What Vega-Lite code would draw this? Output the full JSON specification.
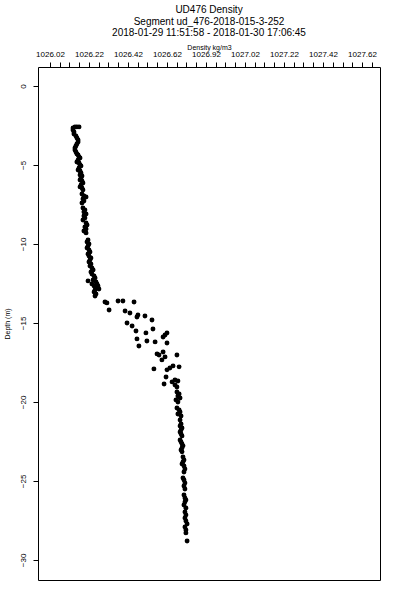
{
  "$schema": "https://vega.github.io/schema/vega-lite/v6.json",
  "autosize": "none",
  "width": 342,
  "height": 513,
  "padding": {"left": 38, "top": 67, "right": 20, "bottom": 20},
  "background": "white",
  "config": {
    "view": {"stroke": "black", "strokeWidth": 1},
    "font": "Liberation Sans"
  },
  "title": {
    "text": ["UD476 Density", "Segment ud_476-2018-015-3-252", "2018-01-29 11:51:58 - 2018-01-30 17:06:45"],
    "fontSize": 10,
    "fontWeight": "normal",
    "font": "Liberation Sans",
    "color": "black",
    "anchor": "middle",
    "lineHeight": 11.5,
    "offset": 5
  },
  "data": {
    "values": [
      {"density": 1026.169, "depth": -2.59},
      {"density": 1026.158, "depth": -2.59},
      {"density": 1026.148, "depth": -2.59},
      {"density": 1026.138, "depth": -2.66},
      {"density": 1026.138, "depth": -2.78},
      {"density": 1026.143, "depth": -2.91},
      {"density": 1026.143, "depth": -3.04},
      {"density": 1026.153, "depth": -3.16},
      {"density": 1026.158, "depth": -3.29},
      {"density": 1026.164, "depth": -3.42},
      {"density": 1026.164, "depth": -3.54},
      {"density": 1026.158, "depth": -3.67},
      {"density": 1026.153, "depth": -3.80},
      {"density": 1026.148, "depth": -3.92},
      {"density": 1026.148, "depth": -4.05},
      {"density": 1026.153, "depth": -4.18},
      {"density": 1026.158, "depth": -4.30},
      {"density": 1026.164, "depth": -4.37},
      {"density": 1026.169, "depth": -4.49},
      {"density": 1026.174, "depth": -4.56},
      {"density": 1026.164, "depth": -4.68},
      {"density": 1026.158, "depth": -4.81},
      {"density": 1026.169, "depth": -4.87},
      {"density": 1026.174, "depth": -5.00},
      {"density": 1026.179, "depth": -5.06},
      {"density": 1026.169, "depth": -5.19},
      {"density": 1026.164, "depth": -5.32},
      {"density": 1026.174, "depth": -5.38},
      {"density": 1026.179, "depth": -5.51},
      {"density": 1026.174, "depth": -5.63},
      {"density": 1026.184, "depth": -5.70},
      {"density": 1026.179, "depth": -5.82},
      {"density": 1026.174, "depth": -5.95},
      {"density": 1026.184, "depth": -6.01},
      {"density": 1026.189, "depth": -6.14},
      {"density": 1026.179, "depth": -6.27},
      {"density": 1026.174, "depth": -6.39},
      {"density": 1026.184, "depth": -6.46},
      {"density": 1026.189, "depth": -6.58},
      {"density": 1026.184, "depth": -6.84},
      {"density": 1026.194, "depth": -6.96},
      {"density": 1026.205, "depth": -7.03},
      {"density": 1026.189, "depth": -7.15},
      {"density": 1026.194, "depth": -7.28},
      {"density": 1026.184, "depth": -7.41},
      {"density": 1026.189, "depth": -7.72},
      {"density": 1026.199, "depth": -7.85},
      {"density": 1026.194, "depth": -7.97},
      {"density": 1026.205, "depth": -8.10},
      {"density": 1026.194, "depth": -8.23},
      {"density": 1026.199, "depth": -8.35},
      {"density": 1026.189, "depth": -8.48},
      {"density": 1026.205, "depth": -8.67},
      {"density": 1026.210, "depth": -8.80},
      {"density": 1026.199, "depth": -8.92},
      {"density": 1026.205, "depth": -9.05},
      {"density": 1026.194, "depth": -9.18},
      {"density": 1026.205, "depth": -9.30},
      {"density": 1026.215, "depth": -9.75},
      {"density": 1026.210, "depth": -9.87},
      {"density": 1026.220, "depth": -10.00},
      {"density": 1026.215, "depth": -10.13},
      {"density": 1026.210, "depth": -10.25},
      {"density": 1026.220, "depth": -10.38},
      {"density": 1026.225, "depth": -10.51},
      {"density": 1026.215, "depth": -10.63},
      {"density": 1026.220, "depth": -10.76},
      {"density": 1026.230, "depth": -10.89},
      {"density": 1026.225, "depth": -11.01},
      {"density": 1026.220, "depth": -11.14},
      {"density": 1026.230, "depth": -11.27},
      {"density": 1026.225, "depth": -11.39},
      {"density": 1026.235, "depth": -11.52},
      {"density": 1026.241, "depth": -11.65},
      {"density": 1026.230, "depth": -11.77},
      {"density": 1026.235, "depth": -11.90},
      {"density": 1026.246, "depth": -12.03},
      {"density": 1026.251, "depth": -12.15},
      {"density": 1026.241, "depth": -12.28},
      {"density": 1026.215, "depth": -12.34},
      {"density": 1026.256, "depth": -12.41},
      {"density": 1026.261, "depth": -12.53},
      {"density": 1026.235, "depth": -12.53},
      {"density": 1026.246, "depth": -12.66},
      {"density": 1026.266, "depth": -12.66},
      {"density": 1026.256, "depth": -12.78},
      {"density": 1026.271, "depth": -12.85},
      {"density": 1026.251, "depth": -12.91},
      {"density": 1026.246, "depth": -13.04},
      {"density": 1026.256, "depth": -13.16},
      {"density": 1026.251, "depth": -13.29},
      {"density": 1026.302, "depth": -13.67},
      {"density": 1026.312, "depth": -13.73},
      {"density": 1026.323, "depth": -14.18},
      {"density": 1026.369, "depth": -13.61},
      {"density": 1026.394, "depth": -13.61},
      {"density": 1026.451, "depth": -13.67},
      {"density": 1026.405, "depth": -14.24},
      {"density": 1026.430, "depth": -14.37},
      {"density": 1026.466, "depth": -14.62},
      {"density": 1026.471, "depth": -14.49},
      {"density": 1026.507, "depth": -14.56},
      {"density": 1026.543, "depth": -14.81},
      {"density": 1026.415, "depth": -15.00},
      {"density": 1026.441, "depth": -15.19},
      {"density": 1026.461, "depth": -15.51},
      {"density": 1026.512, "depth": -15.63},
      {"density": 1026.548, "depth": -15.38},
      {"density": 1026.600, "depth": -15.89},
      {"density": 1026.610, "depth": -15.76},
      {"density": 1026.620, "depth": -15.63},
      {"density": 1026.466, "depth": -16.01},
      {"density": 1026.517, "depth": -16.14},
      {"density": 1026.559, "depth": -16.20},
      {"density": 1026.620, "depth": -16.27},
      {"density": 1026.476, "depth": -16.46},
      {"density": 1026.569, "depth": -16.96},
      {"density": 1026.579, "depth": -17.03},
      {"density": 1026.600, "depth": -16.84},
      {"density": 1026.610, "depth": -17.15},
      {"density": 1026.671, "depth": -17.03},
      {"density": 1026.594, "depth": -17.34},
      {"density": 1026.553, "depth": -17.91},
      {"density": 1026.620, "depth": -17.97},
      {"density": 1026.635, "depth": -17.85},
      {"density": 1026.651, "depth": -17.72},
      {"density": 1026.682, "depth": -17.78},
      {"density": 1026.615, "depth": -18.42},
      {"density": 1026.605, "depth": -18.86},
      {"density": 1026.646, "depth": -18.73},
      {"density": 1026.661, "depth": -18.61},
      {"density": 1026.676, "depth": -18.67},
      {"density": 1026.661, "depth": -18.92},
      {"density": 1026.671, "depth": -19.05},
      {"density": 1026.671, "depth": -19.37},
      {"density": 1026.682, "depth": -19.49},
      {"density": 1026.676, "depth": -19.62},
      {"density": 1026.687, "depth": -19.75},
      {"density": 1026.666, "depth": -19.87},
      {"density": 1026.676, "depth": -20.00},
      {"density": 1026.671, "depth": -20.38},
      {"density": 1026.682, "depth": -20.51},
      {"density": 1026.687, "depth": -20.63},
      {"density": 1026.676, "depth": -20.76},
      {"density": 1026.692, "depth": -20.89},
      {"density": 1026.687, "depth": -21.14},
      {"density": 1026.692, "depth": -21.39},
      {"density": 1026.687, "depth": -21.52},
      {"density": 1026.697, "depth": -21.65},
      {"density": 1026.692, "depth": -21.77},
      {"density": 1026.687, "depth": -21.90},
      {"density": 1026.692, "depth": -22.03},
      {"density": 1026.697, "depth": -22.15},
      {"density": 1026.687, "depth": -22.41},
      {"density": 1026.692, "depth": -22.53},
      {"density": 1026.697, "depth": -22.66},
      {"density": 1026.702, "depth": -22.78},
      {"density": 1026.697, "depth": -22.91},
      {"density": 1026.692, "depth": -23.04},
      {"density": 1026.697, "depth": -23.16},
      {"density": 1026.702, "depth": -23.48},
      {"density": 1026.707, "depth": -23.67},
      {"density": 1026.702, "depth": -23.80},
      {"density": 1026.697, "depth": -23.92},
      {"density": 1026.707, "depth": -24.05},
      {"density": 1026.712, "depth": -24.24},
      {"density": 1026.707, "depth": -24.43},
      {"density": 1026.702, "depth": -24.81},
      {"density": 1026.707, "depth": -24.94},
      {"density": 1026.712, "depth": -25.13},
      {"density": 1026.707, "depth": -25.32},
      {"density": 1026.712, "depth": -25.51},
      {"density": 1026.707, "depth": -25.89},
      {"density": 1026.712, "depth": -26.08},
      {"density": 1026.717, "depth": -26.20},
      {"density": 1026.712, "depth": -26.33},
      {"density": 1026.707, "depth": -26.52},
      {"density": 1026.717, "depth": -26.71},
      {"density": 1026.712, "depth": -26.96},
      {"density": 1026.717, "depth": -27.15},
      {"density": 1026.712, "depth": -27.34},
      {"density": 1026.717, "depth": -27.53},
      {"density": 1026.723, "depth": -27.72},
      {"density": 1026.712, "depth": -27.91},
      {"density": 1026.717, "depth": -28.10},
      {"density": 1026.717, "depth": -28.29},
      {"density": 1026.723, "depth": -28.80}
    ]
  },
  "mark": {"type": "point", "shape": "circle", "filled": true, "color": "black", "opacity": 1, "size": 24},
  "encoding": {
    "x": {
      "field": "density",
      "type": "quantitative",
      "scale": {"domain": [1025.9585, 1027.7123], "nice": false, "zero": false},
      "axis": {
        "orient": "top",
        "title": "Density kg/m3",
        "titleFontSize": 7,
        "titleFontWeight": "normal",
        "titleFont": "Liberation Sans",
        "titleColor": "black",
        "titlePadding": 0,
        "values": [1026.02, 1026.07, 1026.12, 1026.17, 1026.22, 1026.27, 1026.32, 1026.37, 1026.42, 1026.47, 1026.52, 1026.57, 1026.62, 1026.67, 1026.72, 1026.77, 1026.82, 1026.87, 1026.92, 1026.97, 1027.02, 1027.07, 1027.12, 1027.17, 1027.22, 1027.27, 1027.32, 1027.37, 1027.42, 1027.47, 1027.52, 1027.57, 1027.62, 1027.67],
        "labelExpr": "abs((datum.value-1026.02)/0.2 - round((datum.value-1026.02)/0.2)) < 0.01 ? (abs(datum.value-1026.82) < 0.001 ? '1026.92' : format(datum.value, '.2f')) : ''",
        "labelFontSize": 8,
        "labelFont": "Liberation Sans",
        "labelColor": "black",
        "labelPadding": 4,
        "labelOverlap": false,
        "labelFlush": false,
        "tickSize": 5,
        "tickColor": "black",
        "domain": false,
        "grid": false
      }
    },
    "y": {
      "field": "depth",
      "type": "quantitative",
      "scale": {"domain": [-31.27, 1.2], "nice": false, "zero": false},
      "axis": {
        "title": "Depth (m)",
        "titleFontSize": 7,
        "titleFontWeight": "normal",
        "titleFont": "Liberation Sans",
        "titleColor": "black",
        "titlePadding": 9,
        "values": [0, -5, -10, -15, -20, -25, -30],
        "labelAngle": 270,
        "labelFontSize": 8,
        "labelFont": "Liberation Sans",
        "labelColor": "black",
        "labelPadding": 6,
        "labelOverlap": false,
        "labelFlush": false,
        "tickSize": 5,
        "tickColor": "black",
        "domain": false,
        "grid": false
      }
    }
  }
}
